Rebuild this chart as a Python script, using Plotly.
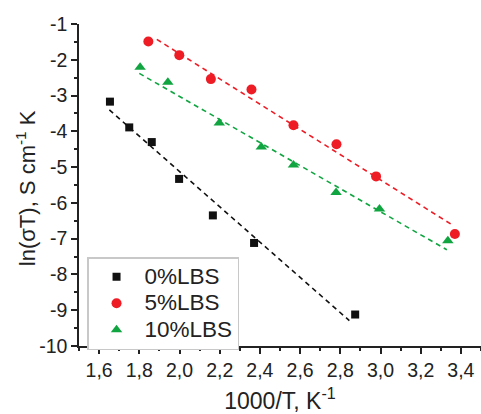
import plotly.graph_objects as go

# ---- data ----
x_0 = [1.654, 1.750, 1.862, 1.998, 2.166, 2.371, 2.874]
y_0 = [-3.17, -3.89, -4.30, -5.33, -6.35, -7.12, -9.12]

x_5 = [1.845, 1.999, 2.156, 2.358, 2.567, 2.781, 2.978, 3.370]
y_5 = [-1.49, -1.87, -2.54, -2.83, -3.83, -4.36, -5.26, -6.87]

x_10 = [1.804, 1.942, 2.198, 2.407, 2.567, 2.779, 2.995, 3.335]
y_10 = [-2.21, -2.63, -3.77, -4.44, -4.94, -5.71, -6.17, -7.06]

# fitted (dashed) lines, end points
fit_x_0 = [1.651, 2.845]
fit_y_0 = [-3.40, -9.29]
fit_x_5 = [1.887, 3.355]
fit_y_5 = [-1.43, -6.61]
fit_x_10 = [1.800, 3.330]
fit_y_10 = [-2.38, -7.31]

names = ["0%LBS", "5%LBS", "10%LBS"]

x_tickvals = [1.6, 1.8, 2.0, 2.2, 2.4, 2.6, 2.8, 3.0, 3.2, 3.4]
x_ticktext = ["1,6", "1,8", "2,0", "2,2", "2,4", "2,6", "2,8", "3,0", "3,2", "3,4"]
y_tickvals = [-1, -2, -3, -4, -5, -6, -7, -8, -9, -10]
y_ticktext = ["-1", "-2", "-3", "-4", "-5", "-6", "-7", "-8", "-9", "-10"]

x_title = "1000/T, K<sup>-1</sup>"
y_title = "ln(σT), S cm<sup>-1</sup> K"

BLACK = "#111111"
RED = "#ee1c25"
GREEN = "#10a540"
FONT = "Liberation Sans, Arial, sans-serif"


def legend_label(s):
    return "<span style='font-size:22.5px'>" + s + "</span>"


fig = go.Figure()

for fx, fy, c in [(fit_x_0, fit_y_0, BLACK), (fit_x_5, fit_y_5, RED), (fit_x_10, fit_y_10, GREEN)]:
    fig.add_trace(go.Scatter(x=fx, y=fy, mode="lines", showlegend=False,
                             line=dict(color=c, width=1.6, dash="5px,4px"),
                             hoverinfo="skip"))

fig.add_trace(go.Scatter(x=x_0, y=y_0, mode="markers", name=legend_label(names[0]),
                         marker=dict(symbol="square", size=8, color=BLACK)))
fig.add_trace(go.Scatter(x=x_5, y=y_5, mode="markers", name=legend_label(names[1]),
                         marker=dict(symbol="circle", size=10, color=RED)))
fig.add_trace(go.Scatter(x=x_10, y=y_10, mode="markers", name=legend_label(names[2]),
                         marker=dict(symbol="triangle-up", size=10, color=GREEN)))

axis_common = dict(showgrid=False, zeroline=False, showline=True, linecolor="#222222",
                   linewidth=1.5, ticks="outside", ticklen=6, tickwidth=1.5, automargin=False,
                   tickcolor="#222222", tickfont=dict(size=19.5, color="#222222", family=FONT))

fig.update_xaxes(range=[1.5, 3.5], tickmode="array", tickvals=x_tickvals, ticktext=x_ticktext,
                 minor=dict(tick0=1.5, dtick=0.1, ticks="outside", ticklen=3, tickwidth=1.5,
                            tickcolor="#222222"),
                 title=dict(text=x_title, font=dict(size=23, color="#222222", family=FONT)),
                 **axis_common)
fig.update_yaxes(range=[-10, -1], tickmode="array", tickvals=y_tickvals, ticktext=y_ticktext,
                 minor=dict(tick0=-10, dtick=0.5, ticks="outside", ticklen=3, tickwidth=1.5,
                            tickcolor="#222222"),
                 **axis_common)

fig.add_annotation(text=y_title, textangle=-90, xref="paper", yref="paper",
                   x=-0.132, y=0.49, xanchor="center", yanchor="middle", showarrow=False,
                   font=dict(size=22, color="#222222", family=FONT))

fig.update_layout(
    width=481, height=414,
    margin=dict(l=79, r=0, t=24, b=68),
    plot_bgcolor="white", paper_bgcolor="white",
    font=dict(family=FONT, color="#222222"),
    legend=dict(x=0.02, y=0.276, xanchor="left", yanchor="top",
                bgcolor="white", bordercolor="#c8c8c8", borderwidth=1.5,
                font=dict(size=18, family=FONT, color="#222222"),
                tracegroupgap=0, itemwidth=46),
    showlegend=True,
)

fig.write_html("out.html", config={"displayModeBar": False},
               post_script="document.body.style.margin='0';document.body.style.overflow='hidden';")
